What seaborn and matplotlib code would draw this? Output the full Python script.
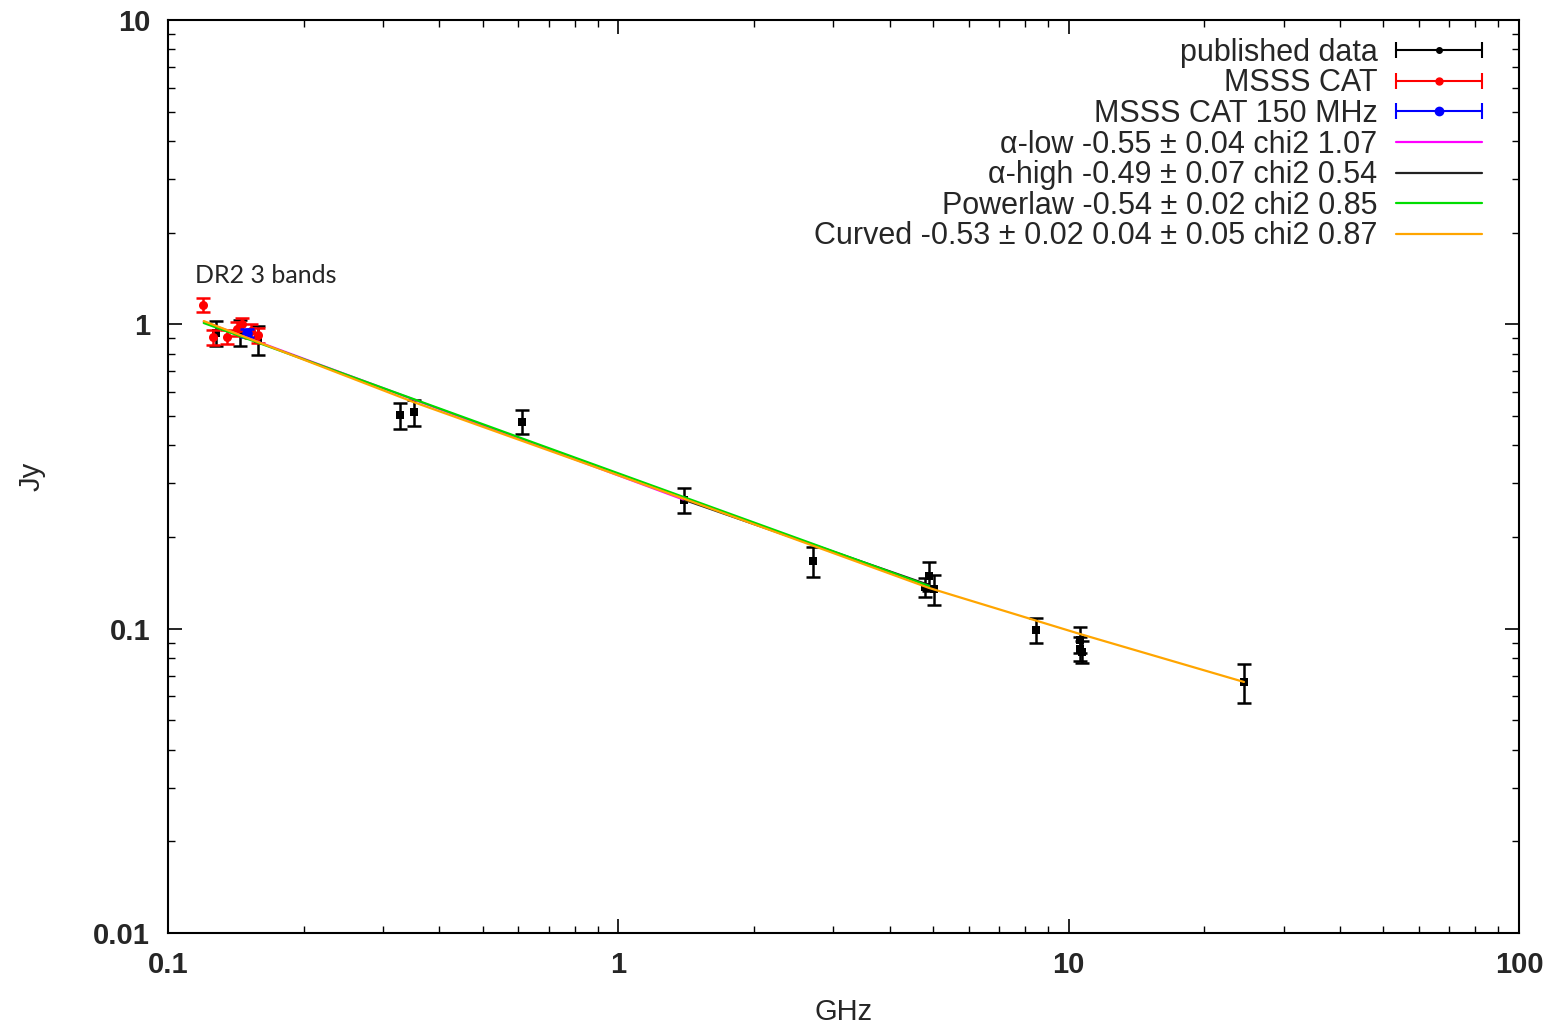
import matplotlib
matplotlib.use("Agg")
import matplotlib.pyplot as plt
import numpy as np
import pandas as pd
import seaborn as sns
from matplotlib.legend_handler import HandlerLine2D, HandlerTuple
from matplotlib.lines import Line2D
from matplotlib.ticker import LogLocator, NullFormatter

# published data (GHz, Jy)
pub_freq = [0.128, 0.1445, 0.158, 0.327, 0.352, 0.611, 1.40, 2.70,
            4.80, 4.90, 5.02, 8.46, 10.6, 10.6, 10.7, 24.5]
pub_flux = [0.936, 0.94, 0.89, 0.503, 0.515, 0.478, 0.265, 0.167,
            0.137, 0.149, 0.135, 0.099, 0.092, 0.086, 0.084, 0.0668]
pub_err = [0.09, 0.09, 0.095, 0.05, 0.05, 0.043, 0.025, 0.019,
           0.01, 0.016, 0.015, 0.0095, 0.009, 0.008, 0.007, 0.010]

# MSSS CAT bands
msss_freq = [0.1196, 0.1259, 0.135, 0.142, 0.146, 0.153, 0.158]
msss_flux = [1.157, 0.908, 0.91, 0.965, 1.0, 0.95, 0.92]
msss_err = [0.06, 0.05, 0.05, 0.05, 0.05, 0.05, 0.05]

# MSSS CAT 150 MHz
m150_freq = [0.150]
m150_flux = [0.936]
m150_err = [0.03]

# fitted models
alow_freq = [0.12, 1.4]
alow_flux = [1.02, 0.265]
ahigh_freq = [1.4, 4.9]
ahigh_flux = [0.265, 0.139]
plaw_freq = [0.12, 4.9]
plaw_flux = [1.01, 0.138]
curv_freq = [0.12, 0.35, 1.4, 4.9, 10.6, 24.5]
curv_flux = [1.025, 0.556, 0.267, 0.136, 0.096, 0.0668]

legend_labels = [
    "published data",
    "MSSS CAT",
    "MSSS CAT 150 MHz",
    "α-low -0.55 ± 0.04 chi2 1.07",
    "α-high -0.49 ± 0.07 chi2 0.54",
    "Powerlaw -0.54 ± 0.02 chi2 0.85",
    "Curved -0.53 ± 0.02 0.04 ± 0.05 chi2 0.87",
]

x_ticks = [0.1, 1, 10, 100]
x_tick_labels = ["0.1", "1", "10", "100"]
y_ticks = [0.01, 0.1, 1, 10]
y_tick_labels = ["0.01", "0.1", "1", "10"]

sns.set_theme(style="ticks")
plt.rcParams["font.family"] = ["Liberation Sans", "DejaVu Sans"]

fig = plt.figure(figsize=(15.62, 10.25), dpi=100)
ax = fig.add_axes([0.1076, 0.0898, 0.8649, 0.8907])

points = [
    (pub_freq, pub_flux, pub_err, "black", "s", 6, 2),
    (msss_freq, msss_flux, msss_err, "#ff0000", "o", 6.5, 3),
    (m150_freq, m150_flux, m150_err, "#0000ff", "o", 7.5, 4),
]
for fr, fl, er, col, mk, ms, z in points:
    ax.errorbar(fr, fl, yerr=er, fmt="none", ecolor=col, elinewidth=1.8,
                capsize=5, capthick=1.8, zorder=z)
    sns.scatterplot(x=fr, y=fl, ax=ax, color=col, marker=mk, s=ms ** 2,
                    edgecolor=col, linewidth=0, zorder=z + 0.1)

fits = [
    (alow_freq, alow_flux, "#ff00ff"),
    (ahigh_freq, ahigh_flux, "#222222"),
    (plaw_freq, plaw_flux, "#00dd00"),
    (curv_freq, curv_flux, "#ffa500"),
]
for i, (fr, fl, col) in enumerate(fits):
    df = pd.DataFrame({"GHz": fr, "Jy": fl})
    sns.lineplot(data=df, x="GHz", y="Jy", ax=ax, color=col, linewidth=1.6,
                 estimator=None, sort=False, zorder=5 + i)

ax.set_xscale("log")
ax.set_yscale("log")
ax.set_xlim(0.1, 100)
ax.set_ylim(0.01, 10)
ax.set_xticks(x_ticks, labels=x_tick_labels)
ax.set_yticks(y_ticks, labels=y_tick_labels)
for axis in (ax.xaxis, ax.yaxis):
    axis.set_minor_locator(LogLocator(base=10, subs=np.arange(2, 10)))
    axis.set_minor_formatter(NullFormatter())
ax.tick_params(which="both", direction="in", top=True, right=True, color="black")
ax.tick_params(which="major", length=10, width=1.2, pad=13, labelsize=21)
ax.tick_params(which="minor", length=5, width=1.0)
for lbl in ax.get_xticklabels() + ax.get_yticklabels():
    lbl.set_fontweight("bold")
for sp in ax.spines.values():
    sp.set_color("black")
    sp.set_linewidth(1.5)

ax.set_xlabel("GHz", fontsize=21, labelpad=14)
ax.set_ylabel("Jy", fontsize=21, labelpad=34)

ax.text(0.02, 0.7196, "DR2 3 bands", transform=ax.transAxes, fontsize=18,
        family=["Lato", "DejaVu Sans"], va="center", ha="left")

# gnuplot-style key: text right aligned, sample on the right
handles = []
hmap = {}
for col, ms in [("black", 4), ("#ff0000", 5), ("#0000ff", 6)]:
    caps = Line2D([], [], color=col, lw=1.5, marker="|", markersize=12,
                  markeredgewidth=1.5)
    dot = Line2D([], [], color=col, lw=0, marker="o", markersize=ms)
    hmap[caps] = HandlerLine2D(numpoints=2, marker_pad=0)
    handles.append((caps, dot))
for _, _, col in fits:
    handles.append(Line2D([], [], color=col, lw=1.6))
hmap[tuple] = HandlerTuple(ndivide=1)

leg = ax.legend(handles, legend_labels, handler_map=hmap, loc="upper right",
                bbox_to_anchor=(0.9726, 0.9805), frameon=False, markerfirst=False,
                fontsize=22, handlelength=2.8, handletextpad=0.62,
                labelspacing=0.02, borderpad=0, borderaxespad=0)

fig.savefig("out.png", dpi=100)
